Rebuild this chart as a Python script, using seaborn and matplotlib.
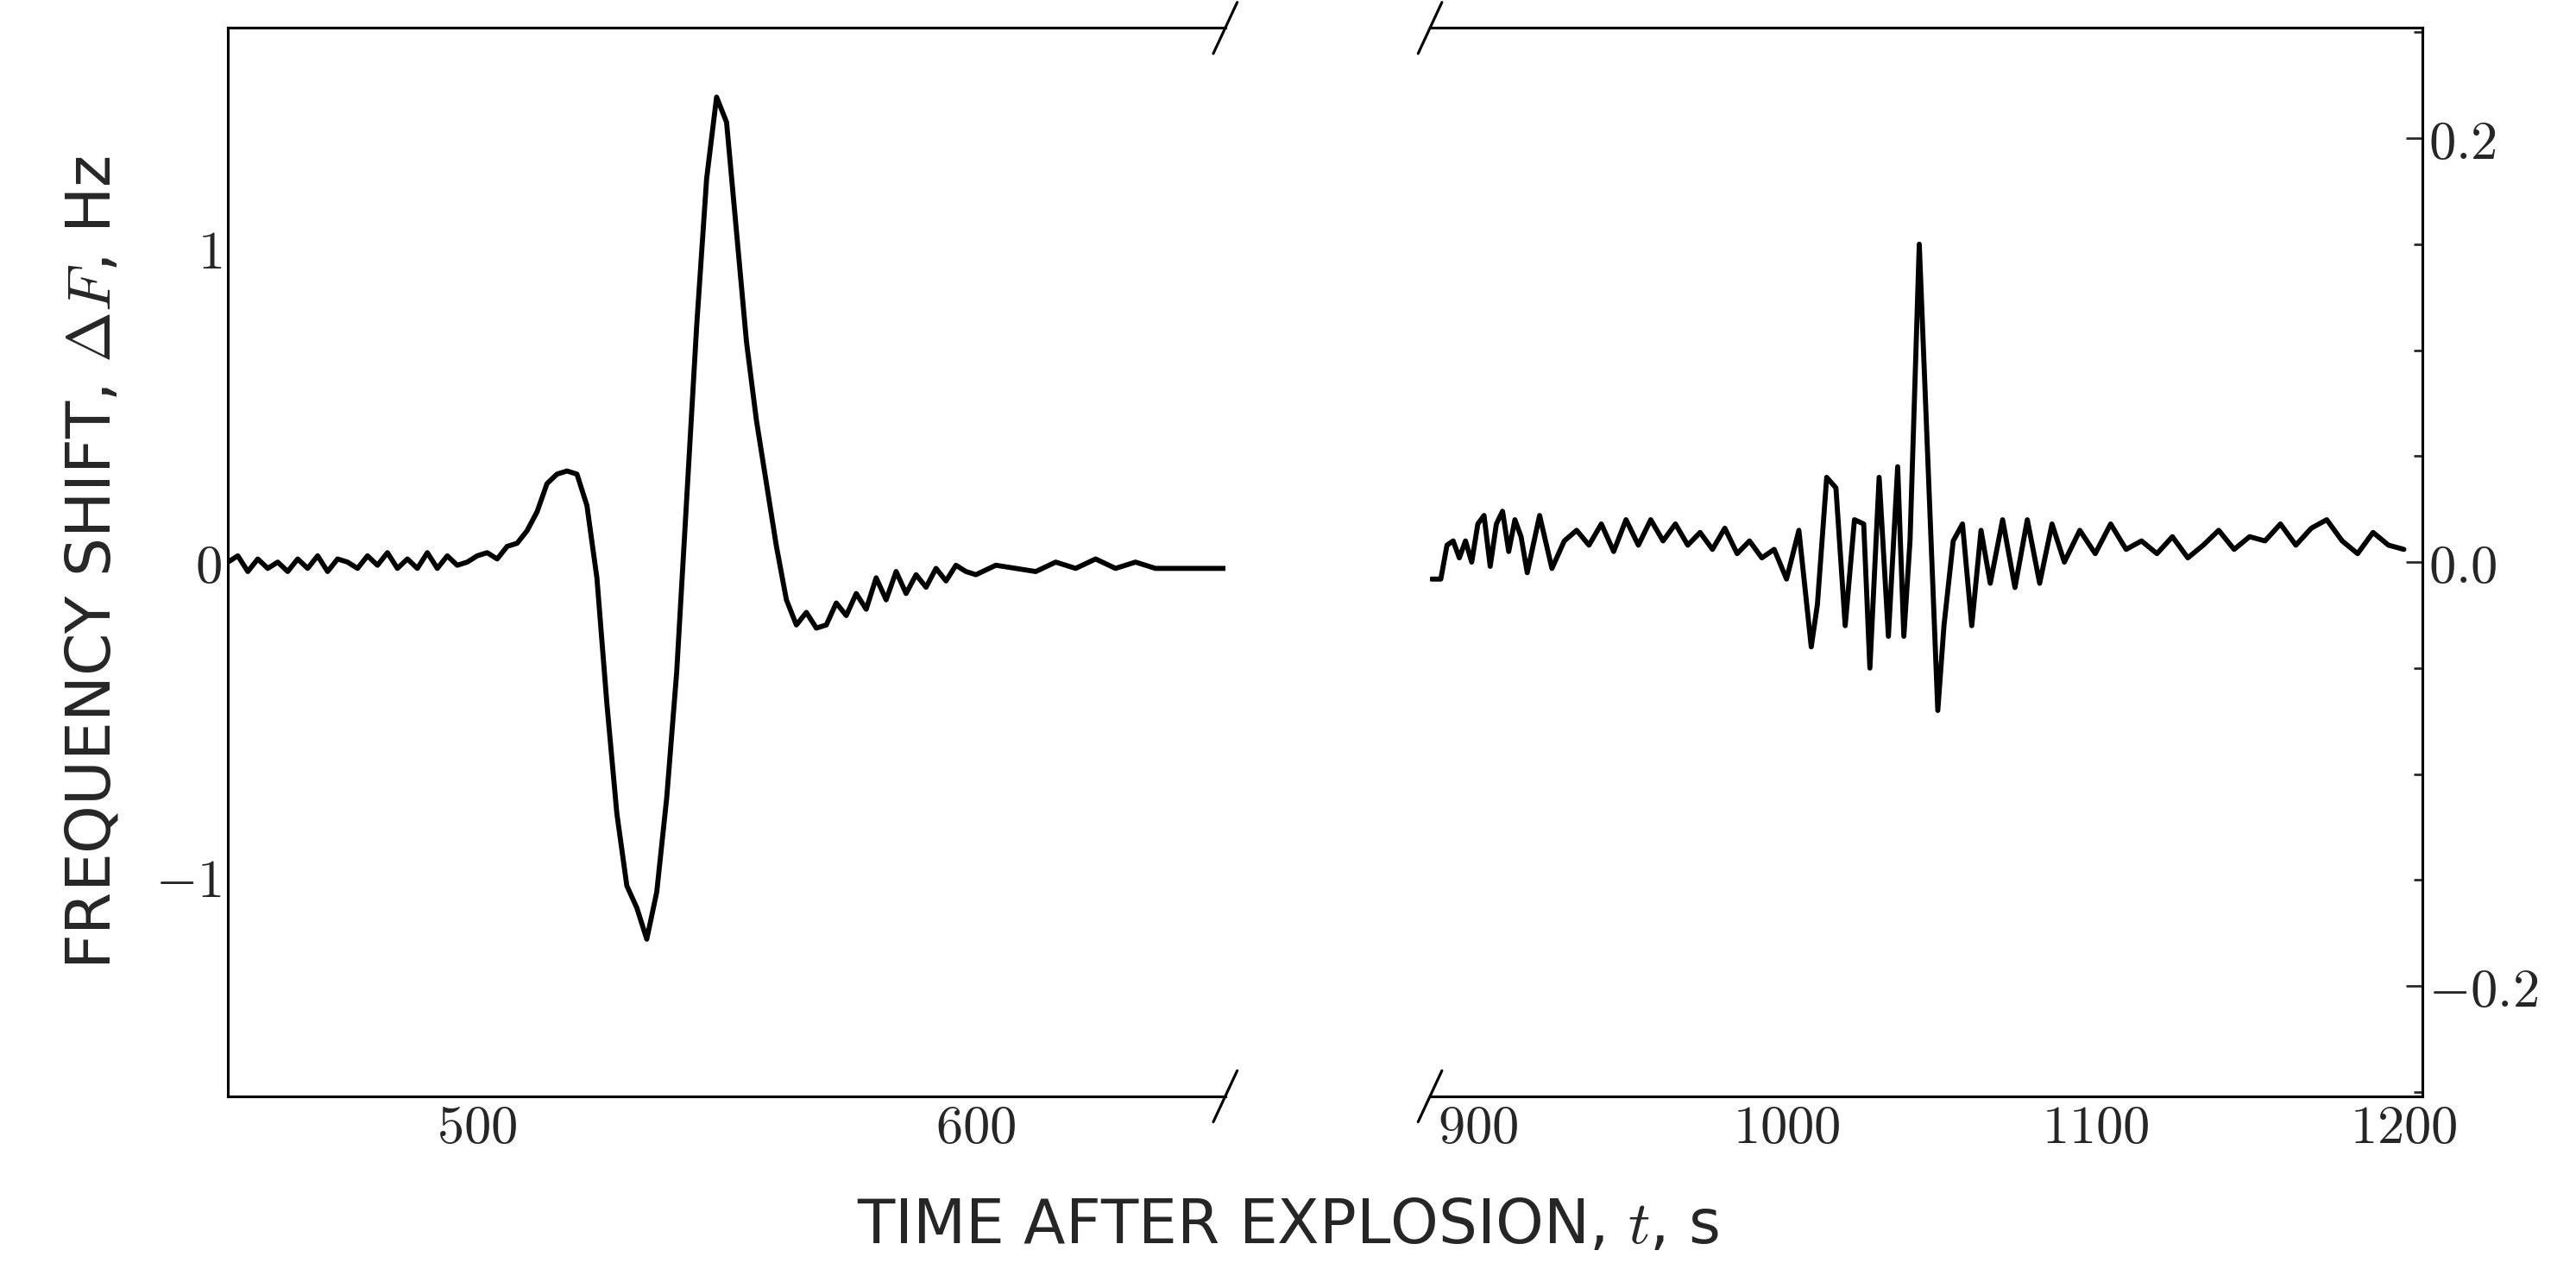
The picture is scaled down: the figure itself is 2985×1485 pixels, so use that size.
import numpy as np
import pandas as pd
import seaborn as sns
import matplotlib
matplotlib.use("Agg")
import matplotlib.pyplot as plt
from matplotlib.ticker import MultipleLocator, FuncFormatter

# left panel: first arrival
t_left = [450, 452, 454, 456, 458, 460, 462, 464, 466, 468, 470, 472, 474, 476, 478, 480,
          482, 484, 486, 488, 490, 492, 494, 496, 498, 500, 502, 504, 506, 508, 510, 512,
          514, 516, 518, 520, 522, 524, 526, 528, 530, 532, 534, 536, 538, 540, 542, 544,
          546, 548, 550, 552, 554, 556, 558, 560, 562, 564, 566, 568, 570, 572, 574, 576,
          578, 580, 582, 584, 586, 588, 590, 592, 594, 596, 598, 600, 604, 608, 612, 616,
          620, 624, 628, 632, 636, 640, 645, 650]
df_left = [0.0, 0.02, -0.03, 0.01, -0.02, 0.0, -0.03, 0.01, -0.02, 0.02, -0.03, 0.01, 0.0, -0.02,
           0.02, -0.01, 0.03, -0.02, 0.01, -0.02, 0.03, -0.02, 0.02, -0.01, 0.0, 0.02, 0.03,
           0.01, 0.05, 0.06, 0.10, 0.16, 0.25, 0.28, 0.29, 0.28, 0.18, -0.05, -0.45, -0.80,
           -1.03, -1.10, -1.20, -1.05, -0.75, -0.35, 0.20, 0.75, 1.22, 1.48, 1.40, 1.05, 0.70,
           0.45, 0.25, 0.05, -0.12, -0.20, -0.16, -0.21, -0.20, -0.13, -0.17, -0.10, -0.15,
           -0.05, -0.12, -0.03, -0.10, -0.04, -0.08, -0.02, -0.06, -0.01, -0.03, -0.04, -0.01,
           -0.02, -0.03, 0.0, -0.02, 0.01, -0.02, 0.0, -0.02, -0.02, -0.02, -0.02]

# right panel: second arrival
t_right = [885, 888, 890, 892, 894, 896, 898, 900, 902, 904, 906, 908, 910, 912, 914, 916,
           920, 924, 928, 932, 936, 940, 944, 948, 952, 956, 960, 964, 968, 972, 976, 980,
           984, 988, 992, 996, 1000, 1004, 1008, 1010, 1013, 1016, 1019, 1022, 1025, 1027,
           1030, 1033, 1036, 1038, 1040, 1043, 1046, 1049, 1051, 1054, 1057, 1060, 1063, 1066,
           1070, 1074, 1078, 1082, 1086, 1090, 1095, 1100, 1105, 1110, 1115, 1120, 1125, 1130,
           1135, 1140, 1145, 1150, 1155, 1160, 1165, 1170, 1175, 1180, 1185, 1190, 1195, 1200]
df_right = [-0.008, -0.008, 0.008, 0.010, 0.002, 0.010, 0.000, 0.018, 0.022, -0.002, 0.018,
            0.024, 0.005, 0.020, 0.012, -0.005, 0.022, -0.003, 0.010, 0.015, 0.008, 0.018,
            0.005, 0.020, 0.008, 0.020, 0.010, 0.018, 0.008, 0.014, 0.006, 0.016, 0.004,
            0.010, 0.002, 0.006, -0.008, 0.015, -0.040, -0.020, 0.040, 0.035, -0.030, 0.020,
            0.018, -0.050, 0.040, -0.035, 0.045, -0.035, 0.010, 0.150, 0.040, -0.070, -0.030,
            0.010, 0.018, -0.030, 0.015, -0.010, 0.020, -0.012, 0.020, -0.010, 0.018, 0.000,
            0.015, 0.004, 0.018, 0.006, 0.010, 0.004, 0.012, 0.002, 0.008, 0.015, 0.006,
            0.012, 0.010, 0.018, 0.008, 0.016, 0.020, 0.010, 0.004, 0.014, 0.008, 0.006]

sns.set_style("white")
plt.rcParams["font.family"] = ["DejaVu Sans"]
plt.rcParams["mathtext.fontset"] = "cm"

fig = plt.figure(figsize=(19.9, 9.9), dpi=150)
ax1 = fig.add_axes([138 / 1560, 1 - 667 / 780, 604 / 1560, 650 / 780])
ax2 = fig.add_axes([866 / 1560, 1 - 667 / 780, 601 / 1560, 650 / 780])

sns.lineplot(x=t_left, y=df_left, ax=ax1, color="black", lw=2.8)
sns.lineplot(x=t_right, y=df_right, ax=ax2, color="black", lw=2.8)

ax1.set_xlim(450, 650)
ax1.set_ylim(-1.7, 1.7)
ax2.set_xlim(884.5, 1206)
ax2.set_ylim(-0.252, 0.252)

fmt = FuncFormatter(lambda v, p: "$%s$" % ("%g" % v if abs(v) > 0.5 else "%.1f" % v).replace("-", "-"))
ax1.xaxis.set_major_locator(MultipleLocator(100))
ax1.xaxis.set_minor_locator(MultipleLocator(20))
ax1.yaxis.set_major_locator(MultipleLocator(1))
ax1.yaxis.set_minor_locator(MultipleLocator(0.5))
ax1.xaxis.set_major_formatter(FuncFormatter(lambda v, p: "$%g$" % v))
ax1.yaxis.set_major_formatter(FuncFormatter(lambda v, p: "$%g$" % v))
ax2.xaxis.set_major_locator(MultipleLocator(100))
ax2.xaxis.set_minor_locator(MultipleLocator(20))
ax2.yaxis.set_major_locator(MultipleLocator(0.2))
ax2.yaxis.set_minor_locator(MultipleLocator(0.05))
ax2.xaxis.set_major_formatter(FuncFormatter(lambda v, p: "$%g$" % v))
ax2.yaxis.set_major_formatter(FuncFormatter(lambda v, p: "$%.1f$" % v))

for ax in (ax1, ax2):
    ax.tick_params(which="both", direction="in", labelsize=30, width=1.3)
    ax.tick_params(which="major", length=9)
    ax.tick_params(which="minor", length=5)
    for s in ax.spines.values():
        s.set_linewidth(1.5)
        s.set_color("black")

ax1.spines["right"].set_visible(False)
ax2.spines["left"].set_visible(False)
ax2.yaxis.tick_right()
ax2.yaxis.set_label_position("right")

# break marks
d = 0.012
kw = dict(color="black", clip_on=False, lw=1.5)
ax1.plot((1 - d, 1 + d), (-2 * d, 2 * d), transform=ax1.transAxes, **kw)
ax1.plot((1 - d, 1 + d), (1 - 2 * d, 1 + 2 * d), transform=ax1.transAxes, **kw)
ax2.plot((-d, d), (-2 * d, 2 * d), transform=ax2.transAxes, **kw)
ax2.plot((-d, d), (1 - 2 * d, 1 + 2 * d), transform=ax2.transAxes, **kw)

ax1.set_ylabel(r"FREQUENCY SHIFT, $\Delta F$, Hz", fontsize=34, labelpad=18)
fig.text(0.5, 0.03, r"TIME AFTER EXPLOSION, $t$, s", ha="center", fontsize=34)

fig.savefig("out.png", dpi=150)
